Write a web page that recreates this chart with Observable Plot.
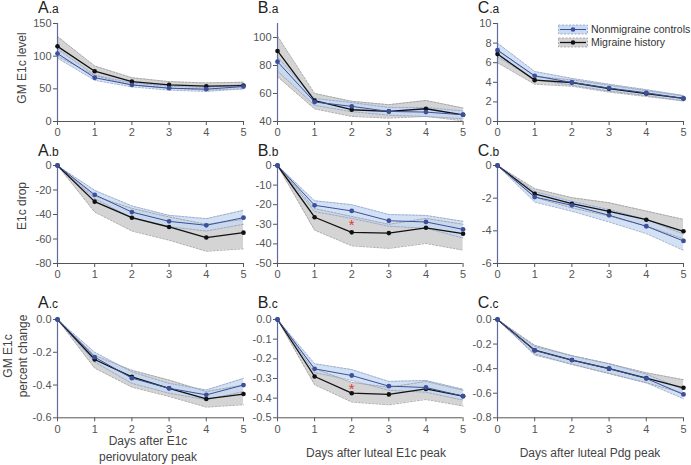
<!DOCTYPE html>
<html>
<head>
<meta charset="utf-8">
<script src="https://cdn.jsdelivr.net/npm/d3@7"></script>
<script src="https://cdn.jsdelivr.net/npm/@observablehq/plot@0.6"></script>
<style>
  body { margin: 0; background: #fff; }
  #root { position: relative; width: 691px; height: 465px; font-family: "Liberation Sans", Arial, sans-serif; color: #333; }
  .abs { position: absolute; white-space: nowrap; }
  .plab { position: absolute; font-size: 16px; color: #222; line-height: 15px; white-space: nowrap; }
  .plab span { font-size: 12px; }
  .ytitle { position: absolute; font-size: 12px; color: #444; transform: translate(-50%, -50%) rotate(-90deg); white-space: nowrap; text-align: center; line-height: 15px; }
  .xtitle { position: absolute; font-size: 12px; color: #444; transform: translate(-50%, 0); white-space: nowrap; text-align: center; line-height: 16px; }
  .leg { position: absolute; font-size: 10.5px; color: #333; display: flex; align-items: center; height: 12px; white-space: nowrap; }
  .leg svg { margin-right: 3px; flex: none; }
</style>
</head>
<body>
<div id="root"></div>
<script>
// ---------------- data ----------------
const days = [0, 1, 2, 3, 4, 5];

// A.a  GM E1c level
const aaMig   = [115, 77, 61, 56, 54, 55];
const aaMigLo = [100, 70, 56, 51, 48, 50];
const aaMigHi = [130, 85, 67, 61, 59, 60];
const aaCon   = [104, 67, 56, 51, 49.5, 53.5];
const aaConLo = [97, 63, 53, 48, 46, 50];
const aaConHi = [111, 71, 59, 54, 52, 57];

// B.a
const baMig   = [90.4, 54.9, 48.4, 47.2, 49.1, 44.8];
const baMigLo = [72, 49, 43.6, 42.4, 43.6, 40.5];
const baMigHi = [101, 60, 54.4, 52, 55, 49.6];
const baCon   = [82.7, 53.9, 50.8, 47.2, 46.7, 44.8];
const baConLo = [76, 51.5, 47, 44.5, 43.5, 42];
const baConHi = [86, 56.5, 53.5, 50, 50, 47.5];

// C.a
const caMig   = [6.88, 4.22, 3.98, 3.35, 2.85, 2.35];
const caMigLo = [6.0, 3.8, 3.6, 3.0, 2.55, 2.1];
const caMigHi = [7.3, 4.6, 4.25, 3.7, 3.15, 2.6];
const caCon   = [7.28, 4.66, 3.98, 3.41, 2.93, 2.35];
const caConLo = [6.6, 4.3, 3.7, 3.1, 2.65, 2.1];
const caConHi = [8.0, 5.1, 4.4, 3.8, 3.25, 2.65];

// A.b  E1c drop
const abMig   = [0, -29.5, -42.6, -50.2, -58.8, -54.8];
const abMigLo = [0, -38, -53.5, -61, -70, -68];
const abMigHi = [0, -25, -35, -42, -48, -44];
const abCon   = [0, -23.9, -38, -45.6, -48.8, -42.6];
const abConLo = [0, -27, -43, -50, -53.5, -48];
const abConHi = [0, -20.3, -33, -40.7, -43.4, -36.6];

// B.b
const bbMig   = [0, -26.4, -34.1, -34.5, -31.8, -34.8];
const bbMigLo = [0, -33, -41, -42.3, -39.8, -43.2];
const bbMigHi = [0, -22, -26, -30, -27, -30];
const bbCon   = [0, -20.3, -23.2, -28.2, -28.8, -32.6];
const bbConLo = [0, -23.5, -27, -31, -32, -37];
const bbConHi = [0, -18, -20, -25, -25.5, -28.5];

// C.b
const cbMig   = [0, -1.73, -2.34, -2.81, -3.32, -4.03];
const cbMigLo = [0, -1.95, -2.6, -3.1, -3.7, -4.5];
const cbMigHi = [0, -1.42, -1.97, -2.28, -2.79, -3.3];
const cbCon   = [0, -1.93, -2.44, -3.05, -3.72, -4.62];
const cbConLo = [0, -2.24, -2.8, -3.46, -4.17, -5.19];
const cbConHi = [0, -1.6, -2.2, -2.7, -3.3, -4.2];

// A.c  GM E1c percent change
const acMig   = [0, -0.244, -0.35, -0.42, -0.485, -0.455];
const acMigLo = [0, -0.297, -0.413, -0.47, -0.535, -0.52];
const acMigHi = [0, -0.22, -0.31, -0.37, -0.44, -0.40];
const acCon   = [0, -0.23, -0.358, -0.42, -0.46, -0.40];
const acConLo = [0, -0.26, -0.39, -0.45, -0.49, -0.44];
const acConHi = [0, -0.2, -0.32, -0.39, -0.43, -0.36];

// B.c
const bcMig   = [0, -0.29, -0.375, -0.381, -0.353, -0.39];
const bcMigLo = [0, -0.332, -0.42, -0.434, -0.407, -0.44];
const bcMigHi = [0, -0.25, -0.32, -0.345, -0.315, -0.36];
const bcCon   = [0, -0.251, -0.285, -0.339, -0.346, -0.39];
const bcConLo = [0, -0.27, -0.31, -0.36, -0.37, -0.41];
const bcConHi = [0, -0.225, -0.255, -0.315, -0.31, -0.355];

// C.c
const ccMig   = [0, -0.25, -0.33, -0.40, -0.477, -0.556];
const ccMigLo = [0, -0.28, -0.365, -0.44, -0.515, -0.60];
const ccMigHi = [0, -0.21, -0.295, -0.36, -0.434, -0.49];
const ccCon   = [0, -0.252, -0.33, -0.40, -0.48, -0.61];
const ccConLo = [0, -0.29, -0.365, -0.44, -0.515, -0.645];
const ccConHi = [0, -0.22, -0.295, -0.36, -0.445, -0.57];

// y tick values
const aaTicks = [0, 50, 100, 150];
const baTicks = [40, 60, 80, 100];
const caTicks = [0, 2, 4, 6, 8, 10];
const abTicks = [0, -20, -40, -60, -80];
const bbTicks = [0, -10, -20, -30, -40, -50];
const cbTicks = [0, -2, -4, -6];
const acTicks = [0, -0.2, -0.4, -0.6];
const bcTicks = [0, -0.1, -0.2, -0.3, -0.4, -0.5];
const ccTicks = [0, -0.2, -0.4, -0.6, -0.8];

// significance markers
const bbStar = [{d: 2, v: -28.2}];
const bcStar = [{d: 2, v: -0.335}];

// text
const panelLetters = ["A", "B", "C"];
const panelRows = ["a", "b", "c"];
const yTitles = [["GM E1c level"], ["E1c drop"], ["GM E1c", "percent change"]];
const xTitles = [["Days after E1c", "periovulatory peak"], ["Days after luteal E1c peak"], ["Days after luteal Pdg peak"]];
const legendLabels = ["Nonmigraine controls", "Migraine history"];

// ---------------- layout ----------------
const colX0 = [57, 276.7, 496.7];
const colX5 = [243, 462.3, 682.7];
const rowTop = [22.7, 165.3, 319];
const rowBot = [120.7, 263.3, 417.3];
const labelTop = [0, 142.6, 294.8];

const BLUE = "#3b4f9c";
const root = document.getElementById("root");
const f0 = d => d.toFixed(0);
const f1 = d => d.toFixed(1);

function panel(o) {
  const mL = 45, mR = 12, mT = 8, mB = 26;
  const W = mL + (colX5[o.col] - colX0[o.col]) + mR;
  const H = mT + (rowBot[o.row] - rowTop[o.row]) + mB;
  const rows = days.map((d, i) => ({
    d, mig: o.mig[i], migLo: o.migLo[i], migHi: o.migHi[i],
    con: o.con[i], conLo: o.conLo[i], conHi: o.conHi[i]
  }));
  const dash = {strokeDasharray: "2,1.5", strokeWidth: 0.8};
  const chart = Plot.plot({
    width: W, height: H,
    marginLeft: mL, marginRight: mR, marginTop: mT, marginBottom: mB,
    style: {background: "transparent", overflow: "visible", fontFamily: "'Liberation Sans', Arial, sans-serif", fontSize: "11px", color: "#555"},
    x: {domain: [0, 5]},
    y: {domain: o.domain},
    marks: [
      Plot.areaY(rows, {x: "d", y1: "migLo", y2: "migHi", fill: "#d4d4d4"}),
      Plot.areaY(rows, {x: "d", y1: "conLo", y2: "conHi", fill: "#c6d9f1", fillOpacity: 0.78}),
      Plot.lineY(rows, {x: "d", y: "migLo", stroke: "#9a9a9a", ...dash}),
      Plot.lineY(rows, {x: "d", y: "migHi", stroke: "#9a9a9a", ...dash}),
      Plot.lineY(rows, {x: "d", y: "conLo", stroke: "#8d9fc9", ...dash}),
      Plot.lineY(rows, {x: "d", y: "conHi", stroke: "#8d9fc9", ...dash}),
      Plot.ruleY([o.domain[0]], {stroke: "#555", strokeWidth: 1}),
      Plot.ruleX([0], {stroke: "#5d6b9e", strokeWidth: 1.2}),
      Plot.axisX({ticks: days, tickFormat: f0, tickSize: 4, tickPadding: 3, label: null, stroke: "#555"}),
      Plot.axisY({ticks: o.ticks, tickFormat: o.fmt, tickSize: 4, tickPadding: 2, label: null, stroke: "#555"}),
      Plot.lineY(rows, {x: "d", y: "mig", stroke: "#111", strokeWidth: 1.3}),
      Plot.dot(rows, {x: "d", y: "mig", fill: "#111", r: 2.3}),
      Plot.lineY(rows, {x: "d", y: "con", stroke: BLUE, strokeWidth: 1}),
      Plot.dot(rows, {x: "d", y: "con", fill: BLUE, r: 2.4}),
      o.star ? Plot.text(o.star, {x: "d", y: "v", text: () => "*", fill: "#e0393b", fontSize: 15, dy: 4}) : null
    ]
  });
  const wrap = document.createElement("div");
  wrap.className = "abs";
  wrap.style.left = (colX0[o.col] - mL) + "px";
  wrap.style.top = (rowTop[o.row] - mT) + "px";
  wrap.style.width = W + "px";
  wrap.appendChild(chart);
  root.appendChild(wrap);

  const lab = document.createElement("div");
  lab.className = "plab";
  lab.style.left = (colX0[o.col] - 19) + "px";
  lab.style.top = labelTop[o.row] + "px";
  lab.innerHTML = panelLetters[o.col] + "<span>." + panelRows[o.row] + "</span>";
  root.appendChild(lab);
}

panel({col: 0, row: 0, domain: [0, 150], ticks: aaTicks, fmt: f0, mig: aaMig, migLo: aaMigLo, migHi: aaMigHi, con: aaCon, conLo: aaConLo, conHi: aaConHi});
panel({col: 1, row: 0, domain: [40, 110], ticks: baTicks, fmt: f0, mig: baMig, migLo: baMigLo, migHi: baMigHi, con: baCon, conLo: baConLo, conHi: baConHi});
panel({col: 2, row: 0, domain: [0, 10], ticks: caTicks, fmt: f0, mig: caMig, migLo: caMigLo, migHi: caMigHi, con: caCon, conLo: caConLo, conHi: caConHi});
panel({col: 0, row: 1, domain: [-80, 0], ticks: abTicks, fmt: f0, mig: abMig, migLo: abMigLo, migHi: abMigHi, con: abCon, conLo: abConLo, conHi: abConHi});
panel({col: 1, row: 1, domain: [-50, 0], ticks: bbTicks, fmt: f0, mig: bbMig, migLo: bbMigLo, migHi: bbMigHi, con: bbCon, conLo: bbConLo, conHi: bbConHi, star: bbStar});
panel({col: 2, row: 1, domain: [-6, 0], ticks: cbTicks, fmt: f0, mig: cbMig, migLo: cbMigLo, migHi: cbMigHi, con: cbCon, conLo: cbConLo, conHi: cbConHi});
panel({col: 0, row: 2, domain: [-0.6, 0], ticks: acTicks, fmt: f1, mig: acMig, migLo: acMigLo, migHi: acMigHi, con: acCon, conLo: acConLo, conHi: acConHi});
panel({col: 1, row: 2, domain: [-0.5, 0], ticks: bcTicks, fmt: f1, mig: bcMig, migLo: bcMigLo, migHi: bcMigHi, con: bcCon, conLo: bcConLo, conHi: bcConHi, star: bcStar});
panel({col: 2, row: 2, domain: [-0.8, 0], ticks: ccTicks, fmt: f1, mig: ccMig, migLo: ccMigLo, migHi: ccMigHi, con: ccCon, conLo: ccConLo, conHi: ccConHi});

// y titles
const yTitleCenters = [[22, 68], [22, 206], [16, 356]];
yTitles.forEach((lines, i) => {
  const t = document.createElement("div");
  t.className = "ytitle";
  t.style.left = yTitleCenters[i][0] + "px";
  t.style.top = yTitleCenters[i][1] + "px";
  t.innerHTML = lines.join("<br>");
  root.appendChild(t);
});

// x titles
const xTitlePos = [[148, 433], [376, 445], [590, 445]];
xTitles.forEach((lines, i) => {
  const t = document.createElement("div");
  t.className = "xtitle";
  t.style.left = xTitlePos[i][0] + "px";
  t.style.top = xTitlePos[i][1] + "px";
  t.innerHTML = lines.join("<br>");
  root.appendChild(t);
});

// legend
const legendStyles = [
  {fill: "#c9daf1", edge: "#8d9fc9", line: BLUE, lw: 1},
  {fill: "#d4d4d4", edge: "#9a9a9a", line: "#111", lw: 1.3}
];
legendLabels.forEach((label, i) => {
  const s = legendStyles[i];
  const row = document.createElement("div");
  row.className = "leg";
  row.style.left = "558px";
  row.style.top = (23 + i * 13.3) + "px";
  const sw = d3.create("svg").attr("width", 30).attr("height", 11);
  sw.append("rect").attr("x", 0.5).attr("y", 1).attr("width", 29).attr("height", 9)
    .attr("fill", s.fill).attr("stroke", s.edge).attr("stroke-width", 0.8).attr("stroke-dasharray", "2,1.5");
  sw.append("line").attr("x1", 2).attr("x2", 28).attr("y1", 5.5).attr("y2", 5.5).attr("stroke", s.line).attr("stroke-width", s.lw);
  sw.append("circle").attr("cx", 15).attr("cy", 5.5).attr("r", 2.3).attr("fill", s.line);
  row.appendChild(sw.node());
  const tx = document.createElement("span");
  tx.textContent = label;
  row.appendChild(tx);
  root.appendChild(row);
});
</script>
</body>
</html>
